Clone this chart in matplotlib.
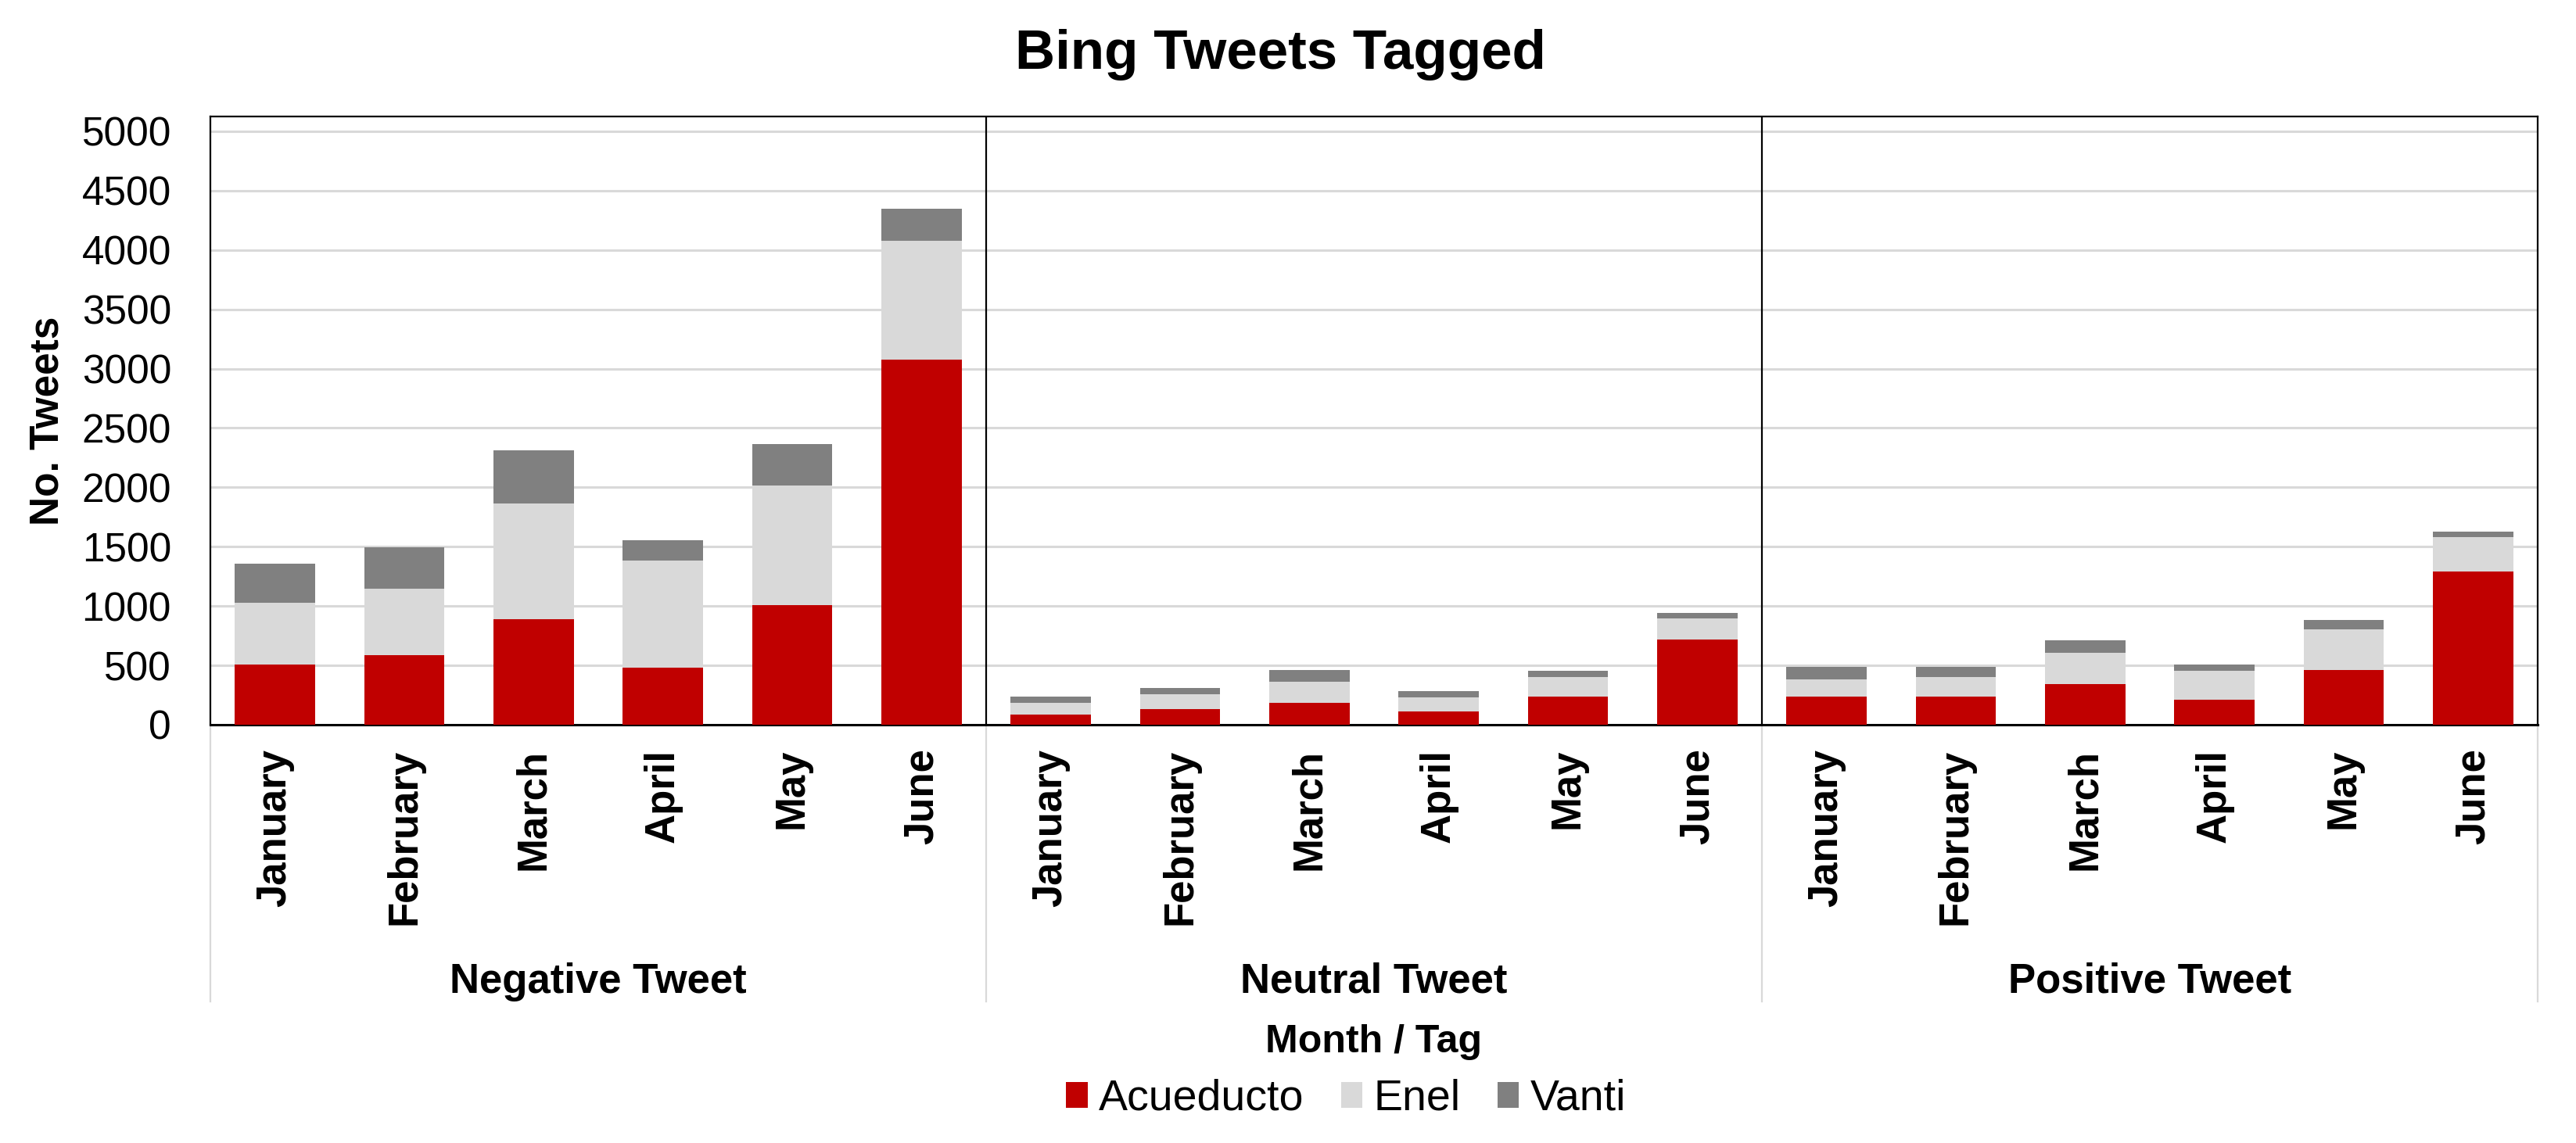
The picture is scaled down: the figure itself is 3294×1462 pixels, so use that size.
import matplotlib
matplotlib.use("Agg")
import matplotlib.pyplot as plt
import matplotlib.transforms as mtransforms
import numpy as np

plt.rcParams["font.family"] = ["Liberation Sans", "DejaVu Sans"]

# data
months = ["January", "February", "March", "April", "May", "June"]
groups = ["Negative Tweet", "Neutral Tweet", "Positive Tweet"]
series = ["Acueducto", "Enel", "Vanti"]
colors = ["#C00000", "#D9D9D9", "#808080"]

acueducto = [510, 585, 890, 480, 1010, 3075,
             85, 135, 185, 110, 235, 715,
             235, 235, 340, 210, 460, 1290]
enel = [520, 560, 975, 905, 1005, 1005,
        100, 120, 175, 120, 170, 180,
        145, 170, 265, 245, 345, 290]
vanti = [330, 350, 450, 170, 350, 270,
         50, 55, 100, 55, 50, 45,
         105, 80, 105, 55, 80, 50]

W, H = 3294, 1462
fig = plt.figure(figsize=(W / 100, H / 100), dpi=100)
# axes box in pixels of the reference
left, right, top, bottom = 269, 3245, 149, 927
ax = fig.add_axes([left / W, 1 - bottom / H, (right - left) / W, (bottom - top) / H])

x = np.arange(len(acueducto))
base = np.zeros(len(x))
for vals, name, c in zip([acueducto, enel, vanti], series, colors):
    ax.bar(x, vals, width=0.62, bottom=base, color=c, label=name, zorder=3)
    base = base + np.array(vals)

ax.set_xlim(-0.5, len(x) - 0.5)
ax.set_ylim(0, 5125)
ax.set_yticks(np.arange(0, 5001, 500))
ax.yaxis.grid(True, color="#D9D9D9", linewidth=2.2, zorder=0)
ax.set_axisbelow(True)
for s in ax.spines.values():
    s.set_color("black")
    s.set_linewidth(1.6)
ax.spines["bottom"].set_linewidth(2.2)

# group separators inside the plot
for sep in [5.5, 11.5]:
    ax.axvline(sep, color="black", linewidth=1.6, zorder=4)

ax.set_xticks(x)
ax.set_xticklabels(months * 3, rotation=90, fontsize=38, fontweight="bold")
ax.tick_params(axis="x", length=0, pad=22)
ax.tick_params(axis="y", length=0, pad=36, labelsize=37)

ax.set_ylabel("No. Tweets", fontsize=37, fontweight="bold", labelpad=14)

# multi-level category axis below the plot
trans = mtransforms.blended_transform_factory(ax.transData, ax.transAxes)
sep_bottom = -(1281 - bottom) / (bottom - top)
for b in [-0.5, 5.5, 11.5, len(x) - 0.5]:
    ax.plot([b, b], [0, sep_bottom], transform=trans, color="#D9D9D9",
            linewidth=1.6, clip_on=False)
group_y = -(1256 - bottom) / (bottom - top)
for i, g in enumerate(groups):
    ax.text(i * 6 + 2.5, group_y, g, transform=trans, ha="center", va="center",
            fontsize=38, fontweight="bold")

fig.text((left + right) / 2 / W, 1 - 1333 / H, "Month / Tag", ha="center", va="center",
         fontsize=36, fontweight="bold")
fig.text(1637 / W, 1 - 70 / H, "Bing Tweets Tagged", ha="center", va="center",
         fontsize=51, fontweight="bold")

fig.legend(loc="center", bbox_to_anchor=(1721 / W, 1 - 1406 / H), ncol=3,
           frameon=False, fontsize=40, handlelength=0.5, handleheight=0.55,
           handletextpad=0.25, columnspacing=0.85)

fig.savefig("out.png", dpi=100)
